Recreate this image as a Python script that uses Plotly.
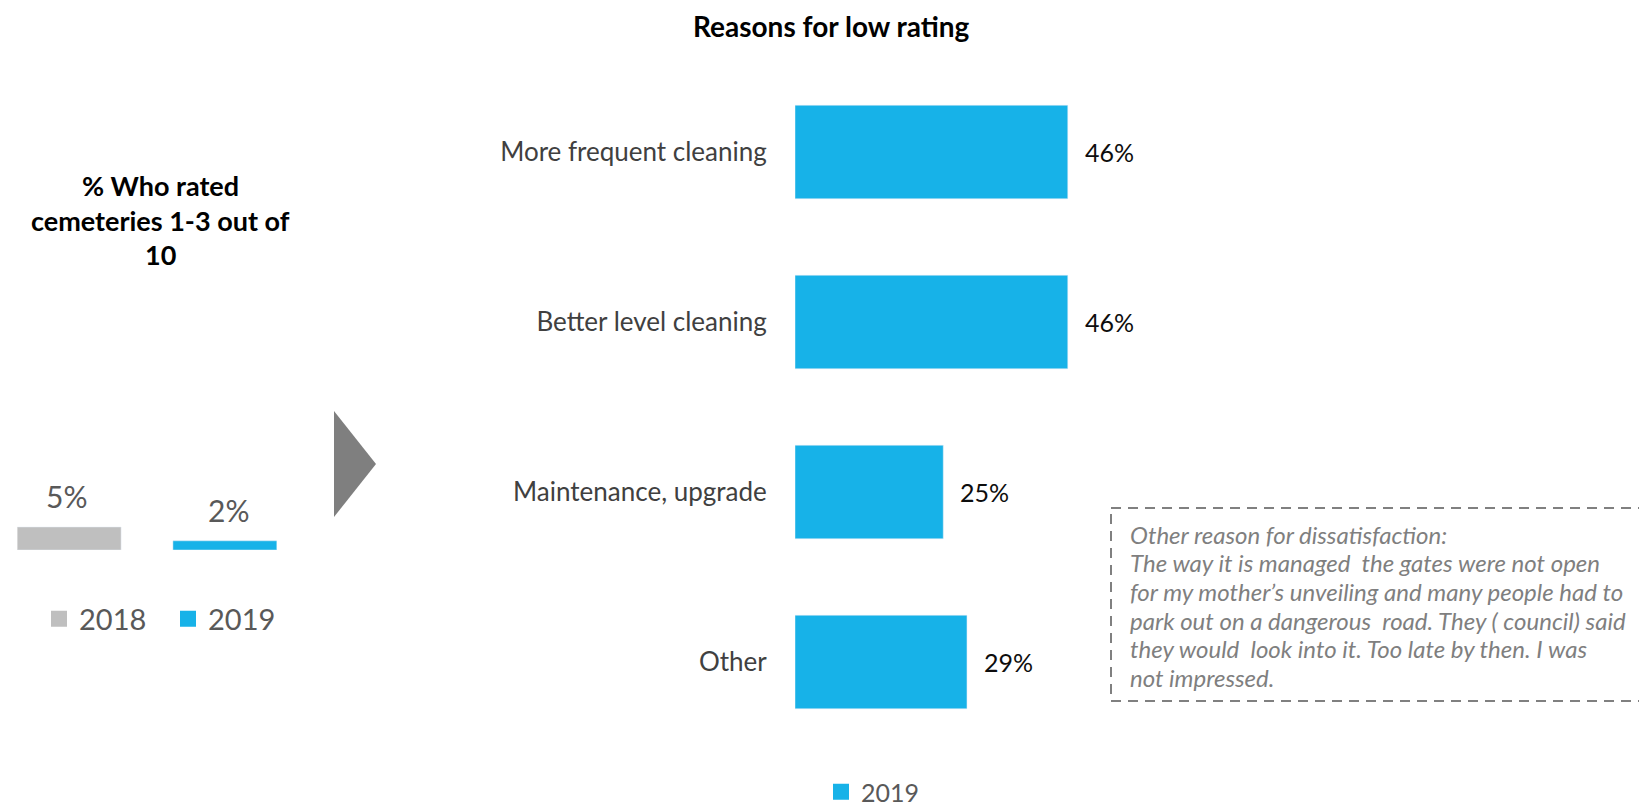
import plotly.graph_objects as go

# the page body adds an 8px margin; figure coordinates are compensated for it
OFF = 8
W, H = 1647 - OFF, 830

# ---- data ----
years = ["2018", "2019"]
low_rating_pct = [5, 2]
low_rating_labels = ["5%", "2%"]
year_colors = ["#BFBFBF", "#17B2E8"]

reasons = ["More frequent cleaning", "Better level cleaning", "Maintenance, upgrade", "Other"]
reason_pct = [46, 46, 25, 29]
reason_labels = ["46%", "46%", "25%", "29%"]
reason_series = "2019"

left_title_lines = ["% Who rated", "cemeteries 1-3 out of", "10"]
right_title = "Reasons for low rating"
note_lines = [
    "Other reason for dissatisfaction:",
    "The way it is managed  the gates were not open",
    "for my mother\u2019s unveiling and many people had to",
    "park out on a dangerous  road. They ( council) said",
    "they would  look into it. Too late by then. I was",
    "not impressed.",
]

BLUE = "#17B2E8"
FONT = "Lato"


def px(x):
    return (x - OFF) / W


def py(y):
    return 1 - (y - OFF) / H


fig = go.Figure()

# left chart bars
for yr, v, c in zip(years, low_rating_pct, year_colors):
    fig.add_trace(go.Bar(x=[yr], y=[v], name=yr, marker_color=c, width=0.68,
                         xaxis="x", yaxis="y", showlegend=False, hoverinfo="skip"))
# left legend entries (square swatches)
for yr, c in zip(years, year_colors):
    fig.add_trace(go.Scatter(x=[None], y=[None], mode="markers", name=yr,
                             marker=dict(symbol="square", size=16, color=c),
                             xaxis="x", yaxis="y", legend="legend2", showlegend=True,
                             hoverinfo="skip"))

# right chart bars
fig.add_trace(go.Bar(x=reason_pct, y=reasons, orientation="h", name=reason_series,
                     marker_color=BLUE, width=0.55, xaxis="x2", yaxis="y2",
                     showlegend=False, hoverinfo="skip"))
fig.add_trace(go.Scatter(x=[None], y=[None], mode="markers", name=reason_series,
                         marker=dict(symbol="square", size=16, color=BLUE),
                         xaxis="x2", yaxis="y2", legend="legend", showlegend=True,
                         hoverinfo="skip"))

annotations = []
for i, (v, t) in enumerate(zip(low_rating_pct, low_rating_labels)):
    annotations.append(dict(x=i, y=v, xref="x", yref="y", text=t, showarrow=False,
                            yanchor="bottom", yshift=11,
                            font=dict(family=FONT, size=30, color="#595959")))
for r, v, t in zip(reasons, reason_pct, reason_labels):
    annotations.append(dict(x=v, y=r, xref="x2", yref="y2", text=t, showarrow=False,
                            xanchor="left", xshift=15,
                            font=dict(family=FONT, size=25, color="#0D0D0D")))

annotations.append(dict(x=px(832), y=py(26), xref="paper", yref="paper", text="<b>" + right_title + "</b>",
                        showarrow=False, xanchor="center", yanchor="middle",
                        font=dict(family=FONT, size=28, color="#000000")))
for i, line in enumerate(left_title_lines):
    annotations.append(dict(x=px(160), y=py(185 + i * 35), xref="paper", yref="paper",
                            text="<b>" + line + "</b>",
                            showarrow=False, xanchor="center", yanchor="middle",
                            font=dict(family=FONT, size=27, color="#000000")))
for i, line in enumerate(note_lines):
    annotations.append(dict(x=px(1128), y=py(534 + i * 28.7), xref="paper", yref="paper",
                            text="<i>" + line + "</i>",
                            showarrow=False, xanchor="left", yanchor="middle", align="left",
                            font=dict(family=FONT, size=24, color="#7F7F7F")))

shapes = [
    dict(type="path", xref="paper", yref="paper",
         path=f"M {px(334)} {py(411)} L {px(334)} {py(517)} L {px(376)} {py(464)} Z",
         fillcolor="#7F7F7F", line=dict(width=0)),
    dict(type="rect", xref="paper", yref="paper",
         x0=px(1111), x1=px(1640), y0=py(508), y1=py(701),
         line=dict(color="#808080", width=2, dash="10px,7px"), fillcolor="rgba(0,0,0,0)"),
]

fig.update_layout(
    width=W, height=H,
    margin=dict(l=0, r=0, t=0, b=0),
    paper_bgcolor="white", plot_bgcolor="white",
    barmode="overlay",
    showlegend=True,
    font=dict(family=FONT, color="#404040"),
    xaxis=dict(domain=[px(17.4), px(276.6)], range=[-0.3, 1.3], type="category",
               categoryorder="array", categoryarray=years,
               showticklabels=False, showgrid=False, zeroline=False, showline=False,
               ticks="", anchor="y", fixedrange=True),
    yaxis=dict(domain=[py(550), py(458)], range=[0, 20], visible=False, anchor="x", fixedrange=True),
    xaxis2=dict(domain=[px(795), px(1388)], range=[0, 100], visible=False, anchor="y2", fixedrange=True),
    yaxis2=dict(domain=[py(747), py(67)], range=[3.5, -0.5], type="category", anchor="x2",
                categoryorder="array", categoryarray=reasons,
                showgrid=False, zeroline=False, showline=False,
                ticks="outside", ticklen=22, tickcolor="rgba(0,0,0,0)",
                tickfont=dict(family=FONT, size=26, color="#404040"), fixedrange=True),
    legend=dict(orientation="h", x=px(821), y=py(792), xanchor="left", yanchor="middle",
                font=dict(family=FONT, size=25, color="#595959"), bgcolor="rgba(0,0,0,0)"),
    legend2=dict(orientation="h", x=px(39), y=py(619), xanchor="left", yanchor="middle",
                 entrywidth=84, entrywidthmode="pixels",
                 font=dict(family=FONT, size=29, color="#595959"), bgcolor="rgba(0,0,0,0)"),
    annotations=annotations,
    shapes=shapes,
)

fig.write_html("out.html")
